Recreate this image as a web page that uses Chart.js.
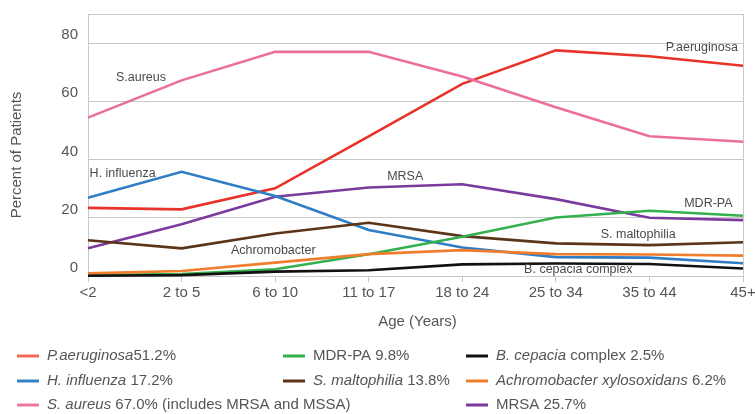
<!DOCTYPE html>
<html>
<head>
<meta charset="utf-8">
<script src="https://cdn.jsdelivr.net/npm/chart.js@4/dist/chart.umd.min.js"></script>
<style>
html,body{margin:0;padding:0;background:#fff;}
#wrap{width:755px;height:414px;position:relative;}
</style>
</head>
<body>
<div id="wrap"><canvas id="c" width="755" height="414"></canvas></div>
<script>
// ---- data ----
const ageGroups = ['<2','2 to 5','6 to 10','11 to 17','18 to 24','25 to 34','35 to 44','45+'];
const pAeruginosa   = [23.4, 22.9, 30.1, 48.0, 66.0, 77.5, 75.5, 72.2];
const sAureus       = [54.4, 67.2, 77.0, 77.0, 68.5, 58.0, 48.0, 46.1];
const hInfluenza    = [26.9, 35.8, 27.5, 15.8, 9.8, 6.5, 6.3, 4.4];
const mrsa          = [9.5, 17.8, 27.2, 30.4, 31.5, 26.4, 20.0, 19.2];
const sMaltophilia  = [12.3, 9.5, 14.6, 18.3, 13.7, 11.2, 10.6, 11.6];
const mdrPa         = [0.3, 0.7, 2.3, 7.5, 13.5, 20.1, 22.4, 20.7];
const achromobacter = [0.9, 1.7, 4.6, 7.5, 8.9, 7.5, 7.4, 7.0];
const bCepacia      = [0.1, 0.3, 1.5, 2.0, 4.0, 4.3, 4.1, 2.6];
const yTickValues   = [0, 20, 40, 60, 80];
const yMax = 90;

// legend entries: [italic part, plain part]
const legendItems = [
  {it:'P.aeruginosa', tx:'51.2%', color:'#f0685a'},
  {it:'H. influenza', tx:' 17.2%', color:'#3a82c8'},
  {it:'S. aureus', tx:' 67.0% (includes MRSA and MSSA)', color:'#ea78a2'},
  {it:'', tx:'MDR-PA 9.8%', color:'#35b04e'},
  {it:'S. maltophilia', tx:' 13.8%', color:'#5c3519'},
  {it:'B. cepacia', tx:' complex 2.5%', color:'#111111'},
  {it:'Achromobacter xylosoxidans', tx:' 6.2%', color:'#f07d2e'},
  {it:'', tx:'MRSA 25.7%', color:'#7b3b9c'}
];

// in-plot labels: text, category index (fractional), value
const inPlotLabels = [
  {t:'S.aureus', i:0.566, v:68.3},
  {t:'H. influenza', i:0.37, v:35.3},
  {t:'Achromobacter', i:1.98, v:8.9},
  {t:'MRSA', i:3.39, v:34.0},
  {t:'MDR-PA', i:6.63, v:25.0},
  {t:'S. maltophilia', i:5.88, v:14.1},
  {t:'B. cepacia complex', i:5.24, v:2.1},
  {t:'P.aeruginosa', i:6.56, v:78.6}
];

const FONT = '"Liberation Sans", Arial, sans-serif';
const TXT = '#555';

function ds(label, data, color){
  return {label, data, borderColor: color, backgroundColor: color, borderWidth: 2.6,
    pointRadius: 0, tension: 0, fill: false, clip: false};
}

const decor = {
  id: 'decor',
  beforeDatasetsDraw(chart){
    const {ctx, chartArea:a} = chart;
    ctx.save();
    ctx.strokeStyle = '#c8c8c8';
    ctx.lineWidth = 1;
    ctx.beginPath();
    ctx.moveTo(Math.round(a.right)+0.5, a.top);
    ctx.lineTo(Math.round(a.right)+0.5, a.bottom);
    ctx.stroke();
    ctx.restore();
  },
  afterDraw(chart){
    const {ctx, chartArea:a, scales} = chart;
    ctx.save();
    // in-plot labels
    ctx.font = '12.5px ' + FONT;
    ctx.fillStyle = '#4a4a4a';
    ctx.textAlign = 'center';
    ctx.textBaseline = 'middle';
    inPlotLabels.forEach(l => {
      const x = scales.x.getPixelForValue(0) + (scales.x.getPixelForValue(1)-scales.x.getPixelForValue(0))*l.i;
      const y = scales.y.getPixelForValue(l.v);
      ctx.fillText(l.t, x, y);
    });
    // axis titles
    ctx.fillStyle = TXT;
    ctx.font = '15px ' + FONT;
    ctx.fillText('Age (Years)', (a.left+a.right)/2 + 2, 322);
    ctx.save();
    ctx.translate(17, 155);
    ctx.rotate(-Math.PI/2);
    ctx.fillText('Percent of Patients', 0, 0);
    ctx.restore();
    // legend
    const colX = [17, 283, 466];
    const rowY = [356, 381, 405];
    const pos = [[0,0],[0,1],[0,2],[1,0],[1,1],[2,0],[2,1],[2,2]];
    ctx.textAlign = 'left';
    legendItems.forEach((it, k) => {
      const x = colX[pos[k][0]], y = rowY[pos[k][1]];
      ctx.strokeStyle = it.color;
      ctx.lineWidth = 3;
      ctx.beginPath(); ctx.moveTo(x, y); ctx.lineTo(x+22, y); ctx.stroke();
      let tx = x + 30;
      ctx.fillStyle = '#555';
      if (it.it){
        ctx.font = 'italic 15px ' + FONT;
        ctx.fillText(it.it, tx, y);
        tx += ctx.measureText(it.it).width;
      }
      ctx.font = '15px ' + FONT;
      ctx.fillText(it.tx, tx, y);
    });
    ctx.restore();
  }
};

new Chart(document.getElementById('c'), {
  type: 'line',
  data: {
    labels: ageGroups,
    datasets: [
      ds('B. cepacia complex', bCepacia, '#111111'),
      ds('Achromobacter xylosoxidans', achromobacter, '#f07d2e'),
      ds('MDR-PA', mdrPa, '#35b04e'),
      ds('S. maltophilia', sMaltophilia, '#5c3519'),
      ds('H. influenza', hInfluenza, '#2f7dc4'),
      ds('MRSA', mrsa, '#7b3b9c'),
      ds('S. aureus', sAureus, '#ea6f9c'),
      ds('P. aeruginosa', pAeruginosa, '#e8332a')
    ]
  },
  options: {
    responsive: false,
    animation: false,
    devicePixelRatio: 1,
    layout: {padding: {top: 14, right: 12, left: 0, bottom: 0}},
    plugins: {legend: {display: false}, tooltip: {enabled: false}},
    scales: {
      x: {
        offset: false,
        afterFit(s){ s.height = 138; s.paddingRight = 0; s.paddingLeft = 0; },
        grid: {display: true, drawOnChartArea: false, drawTicks: true, tickLength: 6, color: '#c8c8c8'},
        border: {display: true, color: '#c8c8c8'},
        ticks: {font: {family: FONT, size: 15}, color: TXT, maxRotation: 0, autoSkip: false, padding: 2}
      },
      y: {
        min: 0, max: yMax,
        afterFit(s){ s.width = 88; s.paddingTop = 0; s.paddingBottom = 0; },
        afterBuildTicks(s){
          s.ticks = yTickValues.map(v => ({value: v})).concat([{value: yMax}]);
        },
        grid: {color: '#c8c8c8', drawTicks: false},
        border: {display: true, color: '#c8c8c8'},
        ticks: {
          font: {family: FONT, size: 15}, color: TXT, padding: 10, labelOffset: -8,
          callback: (v) => yTickValues.includes(v) ? String(v) : ''
        }
      }
    }
  },
  plugins: [decor]
});
</script>
</body>
</html>
